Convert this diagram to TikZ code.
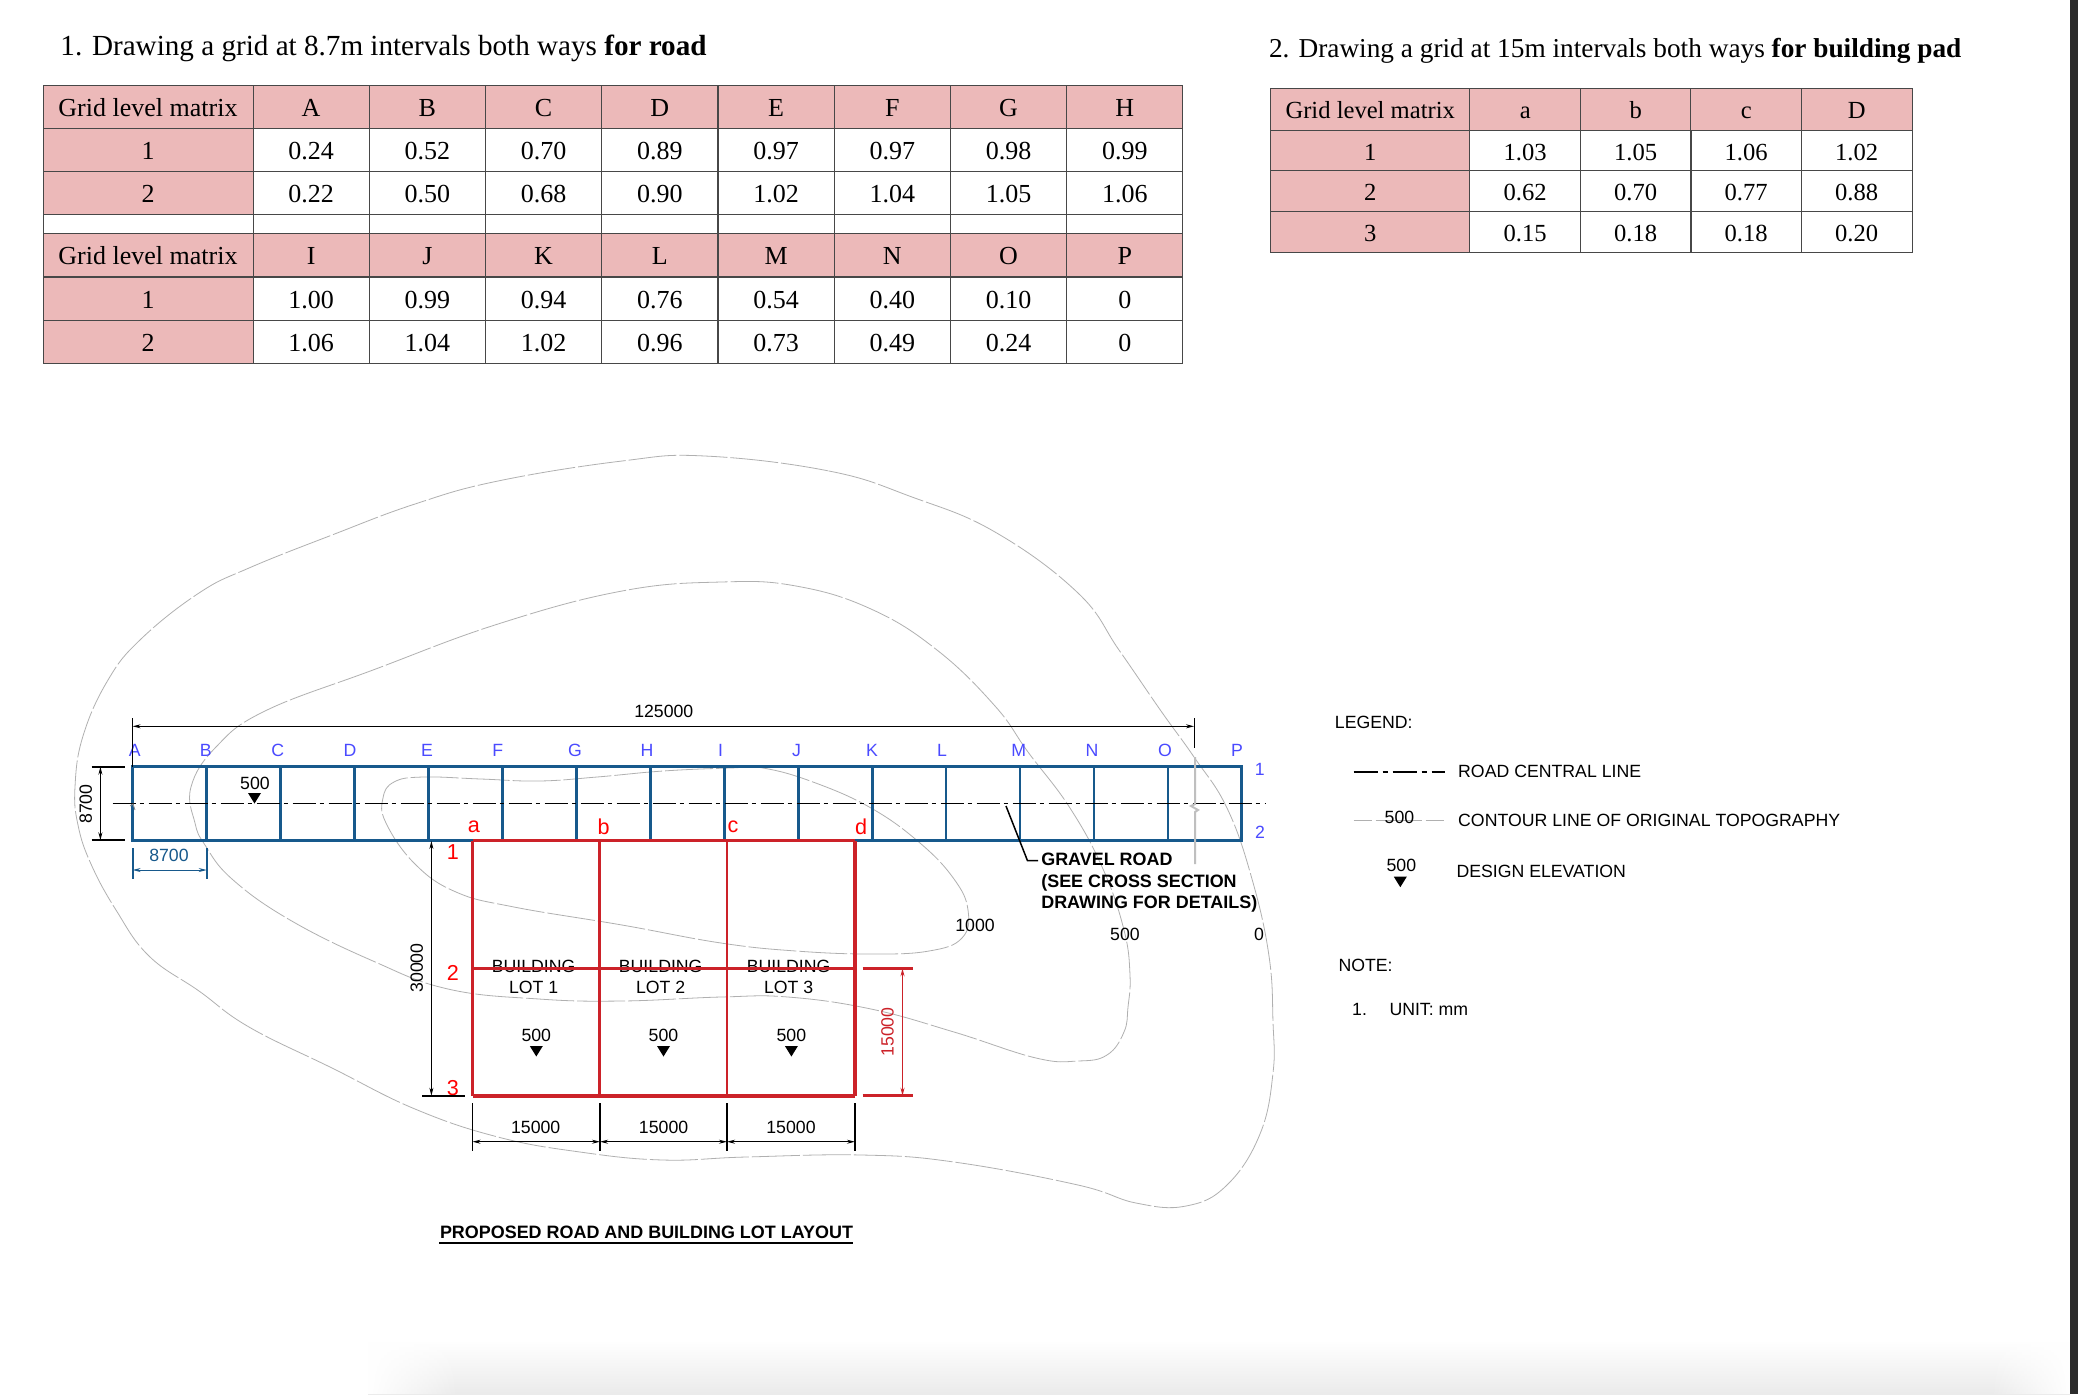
\documentclass[tikz,border=0pt]{standalone}
\usepackage{fontspec}
\setmainfont{Liberation Serif}
\newfontfamily\drawfont{Liberation Sans}
\usetikzlibrary{arrows.meta, fadings}

\definecolor{headpink}{HTML}{ECB9B9}
\definecolor{roadblue}{HTML}{17598C}
\definecolor{lotred}{HTML}{CC2229}
\definecolor{gridletter}{HTML}{4A4AFF}
\definecolor{contourgray}{HTML}{B0B0B0}

\newcommand{\sizeA}{\fontsize{13}{15}\selectfont}
\newcommand{\sizeB}{\fontsize{12.3}{15}\selectfont}
\newcommand{\sizeT}{\fontsize{14.57}{16}\selectfont}
\newcommand{\sizeU}{\fontsize{13.65}{16}\selectfont}
\newcommand{\sizeD}{\drawfont\fontsize{8.85}{10}\selectfont}
\newcommand{\sizeE}{\drawfont\fontsize{8.97}{10}\selectfont}
\newcommand{\sizeR}{\drawfont\fontsize{10.8}{12}\selectfont}

\begin{document}
\begin{tikzpicture}[
    x = 0.5pt, y = -0.5pt, % one unit is one pixel of the reference
    > = {Stealth[length = 4pt, width = 2pt]}, % arrow head style
    line width = 0.5pt
]

\tikzstyle{cell}=[draw = black!72, line width = 0.5pt, inner sep = 0pt, minimum height = 21.5pt, text height = 9.6pt, text depth = 0pt]
\tikzstyle{headA}=[cell, fill = headpink, font = \sizeA, minimum width = 58.1pt]
\tikzstyle{valA}=[cell, font = \sizeA, minimum width = 58.1pt]
\tikzstyle{sideA}=[cell, fill = headpink, font = \sizeA, minimum width = 105pt]
\tikzstyle{headB}=[cell, fill = headpink, font = \sizeB, minimum width = 55.3pt, minimum height = 21pt]
\tikzstyle{valB}=[cell, font = \sizeB, minimum width = 55.3pt, minimum height = 20.4pt]
\tikzstyle{sideB}=[cell, fill = headpink, font = \sizeB, minimum width = 99.7pt, minimum height = 20.4pt]
\tikzstyle{txt}=[inner sep = 0pt, font = \sizeD]
\tikzstyle{gridlab}=[txt, text = gridletter]
\tikzstyle{lotlab}=[inner sep = 0pt, font = \sizeR, text = red]
\tikzstyle{contour}=[draw = contourgray, line width = 0.4pt, dash pattern = on 24pt off 1.5pt]
\tikzstyle{road}=[draw = roadblue, line width = 1.6pt]
\tikzstyle{lot}=[draw = lotred, line width = 1.5pt]
\tikzstyle{centre}=[draw = black, line width = 0.55pt, dash pattern = on 11.5pt off 2pt on 2pt off 2.5pt]
\tikzstyle{tick}=[draw = black, line width = 1pt]
\tikzstyle{dimen}=[<->, draw = black, line width = 0.5pt]
\tikzset{levelmark/.pic={\fill (-6.5,0) -- (6.5,0) -- (0,10.5) -- cycle;}}

\useasboundingbox (0,0) rectangle (2078,1394);
\fill[white] (0,0) rectangle (2078,1394);
\shade[top color = white, bottom color = black!8] (368,1340) rectangle (2070,1394);
\fill[white, path fading = east] (368,1340) rectangle (459,1394);
\fill[white, path fading = west] (1990,1340) rectangle (2070,1394);
\fill[black!83] (2070,0) rectangle (2078,1394);

% titles
\node[anchor = west, inner sep = 0pt, font = \sizeT] (titleA) at (60,48.8) {1. Drawing a grid at 8.7m intervals both ways \textbf{for road}};
\node[anchor = west, inner sep = 0pt, font = \sizeU] (titleB) at (1268.5,50.5) {2. Drawing a grid at 15m intervals both ways \textbf{for building pad}};

% road table
\foreach \top/\side/\heads in {0/106.5/{A,B,C,D,E,F,G,H}, 1/255/{I,J,K,L,M,N,O,P}} {
    \node[sideA] (a\top side) at (148,\side) {Grid level matrix};
    \foreach \h [count = \c from 0] in \heads
        \node[headA] (a\top head\c) at ({311.1+116.25*\c},\side) {\h};
}
\foreach \r/\lab/\yy/\vals in {
    1/1/149.5/{0.24,0.52,0.70,0.89,0.97,0.97,0.98,0.99},
    2/2/192.5/{0.22,0.50,0.68,0.90,1.02,1.04,1.05,1.06},
    3/1/298.5/{1.00,0.99,0.94,0.76,0.54,0.40,0.10,0},
    4/2/341.5/{1.06,1.04,1.02,0.96,0.73,0.49,0.24,0}} {
    \node[sideA] (a\r side) at (148,\yy) {\lab};
    \foreach \v [count = \c from 0] in \vals
        \node[valA] (a\r val\c) at ({311.1+116.25*\c},\yy) {\v};
}
\node[cell, minimum width = 105pt, minimum height = 9.5pt, text height = 0pt] (gap0) at (148,223.5) {};
\foreach \c in {0,...,7}
    \node[cell, minimum width = 58.1pt, minimum height = 9.5pt, text height = 0pt] (gap\c x) at ({311.1+116.25*\c},223.5) {};

% pad table
\node[sideB, minimum height = 21pt] (bside) at (1370.2,109) {Grid level matrix};
\foreach \h [count = \c from 0] in {a,b,c,D}
    \node[headB] (bhead\c) at ({1525.2+110.5*\c},109) {\h};
\foreach \lab/\yy/\vals in {
    1/150.5/{1.03,1.05,1.06,1.02},
    2/191/{0.62,0.70,0.77,0.88},
    3/232/{0.15,0.18,0.18,0.20}} {
    \node[sideB] (b\lab side) at (1370.2,\yy) {\lab};
    \foreach \v [count = \c from 0] in \vals
        \node[valB] (b\lab val\c) at ({1525.2+110.5*\c},\yy) {\v};
}

% contours
\draw[contour] plot[smooth cycle, tension = 0.7] coordinates {
    (705,456) (829,471) (912,497) (995,532) (1078,593) (1119,650) (1161,711) (1194,757) (1227,808) (1252,879) (1269,956)
    (1273,1022) (1273,1073) (1260,1134) (1227,1185) (1186,1206) (1136,1203) (1078,1185) (954,1162) (862,1155) (746,1157) (663,1160)
    (580,1152) (498,1137) (415,1109) (332,1068) (249,1027) (199,991) (149,956) (116,910) (91,864) (78,825) (75,787) (83,736)
    (108,680) (141,639) (199,593) (249,568) (332,535) (415,504) (498,481) (622,461)};
\draw[contour] plot[smooth cycle, tension = 0.7] coordinates {
    (721,582) (796,586) (871,609) (937,650) (995,706) (1028,752) (1070,808) (1103,869) (1124,930) (1130,975) (1128,1007)
    (1124,1032) (1107,1055) (1078,1061) (1036,1058) (954,1032) (871,1009) (788,997) (721,997) (622,1001) (539,999)
    (448,989) (373,961) (290,920) (232,879) (205,845) (195,823) (191,787) (216,747) (265,711) (373,670) (498,624) (622,591)};
\draw[contour] plot[smooth cycle, tension = 0.7] coordinates {
    (730,768) (763,768) (813,782) (871,808) (920,843) (954,879) (968,910) (962,938) (929,951) (871,954)
    (796,951) (721,943) (622,925) (514,907) (456,892) (415,864) (386,823) (383,798) (394,782) (423,777)
    (481,779) (539,781) (597,777) (663,771)};

% road grid
\foreach \i in {0,...,15} {
    \coordinate (rt\i) at ({132.6+73.95*\i},766.7);
    \coordinate (rb\i) at ({132.6+73.95*\i},840.3);
}
\foreach \i in {1,...,14}
    \draw[road, line width = 1.4pt] (rt\i) -- (rb\i);
\draw[road] (rt0) -- (rt15) -- (rb15) -- (rb0) -- cycle;
\coordinate (cl0) at (112.5,803.3);
\coordinate (cl1) at (1266,803.3);
\draw[centre] (cl0) -- (cl1);

% grid letters
\foreach \n/\xx in {A/134.8,B/205.8,C/277.7,D/350,E/427,F/497.8,G/575,H/647,I/720.6,J/796.6,K/872,L/942,M/1018.8,N/1092,O/1165,P/1237}
    \node[gridlab] (col\n) at (\xx,750.7) {\n};
\node[gridlab] (row1) at (1259.7,769) {1};
\node[gridlab] (row2) at (1260,832.7) {2};

% overall road dimension
\coordinate (da) at (132.6,718);
\coordinate (db) at (1194,718);
\coordinate (dc) at (1194,748);
\coordinate (dd) at (132.6,726.3);
\coordinate (de) at (1194,726.3);
\draw (da) -- (rt0);
\draw (db) -- (dc);
\draw[dimen] (dd) -- (de);
\node[txt] (len) at (663.8,711.7) {125000};

% break line
\draw[draw = black!25, line width = 1pt] (1195,757) -- (1195,804) -- (1191,806) -- (1198,810) -- (1195,812) -- (1195,864);
\draw[draw = black!45, line width = 0.4pt] (130,806) -- (133,804) -- (135,810);

% road width dimensions
\coordinate (wa) at (91.5,766.7);
\coordinate (wb) at (125,766.7);
\coordinate (wc) at (91.5,840.3);
\coordinate (wd) at (125,840.3);
\coordinate (we) at (100.4,766.7);
\coordinate (wf) at (100.4,840.3);
\draw[tick] (wa) -- (wb);
\draw[tick] (wc) -- (wd);
\draw[dimen] (we) -- (wf);
\node[txt, rotate = 90] (roadw) at (85.7,804) {8700};

\coordinate (ga) at (132.6,848);
\coordinate (gb) at (132.6,879);
\coordinate (gc) at (206.7,848);
\coordinate (gd) at (206.7,879);
\coordinate (ge) at (132.6,870);
\coordinate (gf) at (206.7,870);
\draw[tick, draw = roadblue] (ga) -- (gb);
\draw[tick, draw = roadblue] (gc) -- (gd);
\draw[dimen, draw = roadblue] (ge) -- (gf);
\node[txt, text = roadblue] (gridw) at (169,855.7) {8700};

\node[txt] (lvl0) at (255,783.7) {500};
\pic at (254.5,793) {levelmark};

% building lots
\coordinate (l0) at (472.5,840.7);
\coordinate (l1) at (599.6,840.7);
\coordinate (l2) at (727,840.7);
\coordinate (l3) at (855,840.7);
\coordinate (m0) at (472.5,968.3);
\coordinate (m3) at (855,968.3);
\coordinate (n0) at (472.5,1095.7);
\coordinate (n1) at (599.6,1095.7);
\coordinate (n2) at (727,1095.7);
\coordinate (n3) at (855,1095.7);
\draw[lot, line width = 1.4pt] (l1) -- (n1);
\draw[lot, line width = 1.4pt] (l2) -- (n2);
\draw[lot] (l0) -- (l3);
\draw[lot] (l0) -- (n0);
\draw[lot, line width = 1.7pt] (l3) -- (n3);
\draw[lot, line width = 2pt] (n0) -- (n3);

\foreach \n/\xx in {a/474,b/603.6,c/732.9,d/861}
    \node[lotlab] (lotcol\n) at (\xx,827) {\n};
\foreach \n/\yy in {1/852,2/973,3/1087.7}
    \node[lotlab] (lotrow\n) at (453,\yy) {\n};

\foreach \n/\xx/\mx in {1/533.6/536.3,2/660.7/663.5,3/788.6/791.4} {
    \node[txt] (lotup\n) at (\xx,966.7) {BUILDING};
    \node[txt] (lotdn\n) at (\xx,987.7) {LOT \n};
    \node[txt] (lotlvl\n) at (\mx,1035.7) {500};
    \pic at (\mx,1046) {levelmark};
}
% the lot line runs through the first text row
\draw[lot, line width = 1.2pt] (m0) -- (m3);

% lot dimensions
\coordinate (ha) at (431.4,841);
\coordinate (hb) at (431.4,1095.7);
\coordinate (hc) at (422,1095.7);
\coordinate (hd) at (465,1095.7);
\draw[dimen] (ha) -- (hb);
\draw[tick] (hc) -- (hd);
\node[txt, rotate = 90] (lotdepth) at (416.8,968) {30000};

\coordinate (ra) at (862.5,968.3);
\coordinate (rb) at (912.5,968.3);
\coordinate (rc) at (862.5,1095.7);
\coordinate (rd) at (912.5,1095.7);
\coordinate (re) at (902.5,968.3);
\coordinate (rf) at (902.5,1095.7);
\draw[lot] (ra) -- (rb);
\draw[lot] (rc) -- (rd);
\draw[dimen, draw = lotred] (re) -- (rf);
\node[txt, rotate = 90, text = lotred] (lotpart) at (887.5,1032) {15000};

\foreach \i/\xx in {0/472.5,1/600,2/727,3/855} {
    \coordinate (bu\i) at (\xx,1103);
    \coordinate (bd\i) at (\xx,1150.7);
    \coordinate (bm\i) at (\xx,1141.7);
    \draw[tick, line width = 0.8pt] (bu\i) -- (bd\i);
}
\draw[dimen] (bm0) -- (bm1);
\draw[dimen] (bm1) -- (bm2);
\draw[dimen] (bm2) -- (bm3);
\node[txt] (lotw1) at (535.7,1127.5) {15000};
\node[txt] (lotw2) at (663.6,1127.5) {15000};
\node[txt] (lotw3) at (791,1127.5) {15000};

% gravel road note
\coordinate (gv0) at (1006,806);
\coordinate (gv1) at (1027.5,860.7);
\coordinate (gv2) at (1038,860.7);
\draw[line width = 0.75pt] (gv0) -- (gv1) -- (gv2);
\node[txt, anchor = west, font = \sizeE\bfseries] (gravel1) at (1040.8,859) {GRAVEL ROAD};
\node[txt, anchor = west, font = \sizeE\bfseries] (gravel2) at (1040.8,882.5) {(SEE CROSS SECTION};
\node[txt, anchor = west, font = \sizeE\bfseries] (gravel3) at (1040.8,904) {DRAWING FOR DETAILS)};

% contour values
\node[txt] (cv1000) at (975,925) {1000};
\node[txt] (cv500) at (1125,934) {500};
\node[txt] (cv0) at (1259,934) {0};

% drawing title
\node[txt, anchor = west, font = \sizeE\bfseries] (layout) at (439.5,1232.7) {PROPOSED ROAD AND BUILDING LOT LAYOUT};
\coordinate (ula) at (439,1242.7);
\coordinate (ulb) at (852.5,1242.7);
\draw[line width = 0.9pt] (ula) -- (ulb);

% legend
\node[txt, anchor = west] (legend) at (1334.4,722.7) {LEGEND:};
\coordinate (kc0) at (1353.6,771.7);
\coordinate (kc1) at (1445.4,771.7);
\draw[centre, line width = 0.9pt, dash pattern = on 12pt off 2.5pt on 2.5pt off 2.5pt] (kc0) -- (kc1);
\node[txt, anchor = west] (keycentre) at (1457.7,771.7) {ROAD CENTRAL LINE};
\coordinate (kt0) at (1353.6,820.3);
\coordinate (kt1) at (1445.4,820.3);
\draw[draw = contourgray, line width = 0.5pt, dash pattern = on 9pt off 2pt on 23pt off 2pt] (kt0) -- (kt1);
\node[txt] (keyval) at (1399.5,817.7) {500};
\node[txt, anchor = west] (keycontour) at (1457.7,820) {CONTOUR LINE OF ORIGINAL TOPOGRAPHY};
\node[txt] (keylvl) at (1401.4,865.7) {500};
\pic at (1400.3,876.7) {levelmark};
\node[txt, anchor = west] (keydesign) at (1456,871.7) {DESIGN ELEVATION};
\node[txt, anchor = west] (note) at (1338,965.7) {NOTE:};
\node[txt, anchor = west] (noteno) at (1351.7,1009) {1.};
\node[txt, anchor = west] (noteunit) at (1389,1009) {UNIT: mm};

\end{tikzpicture}
\end{document}
